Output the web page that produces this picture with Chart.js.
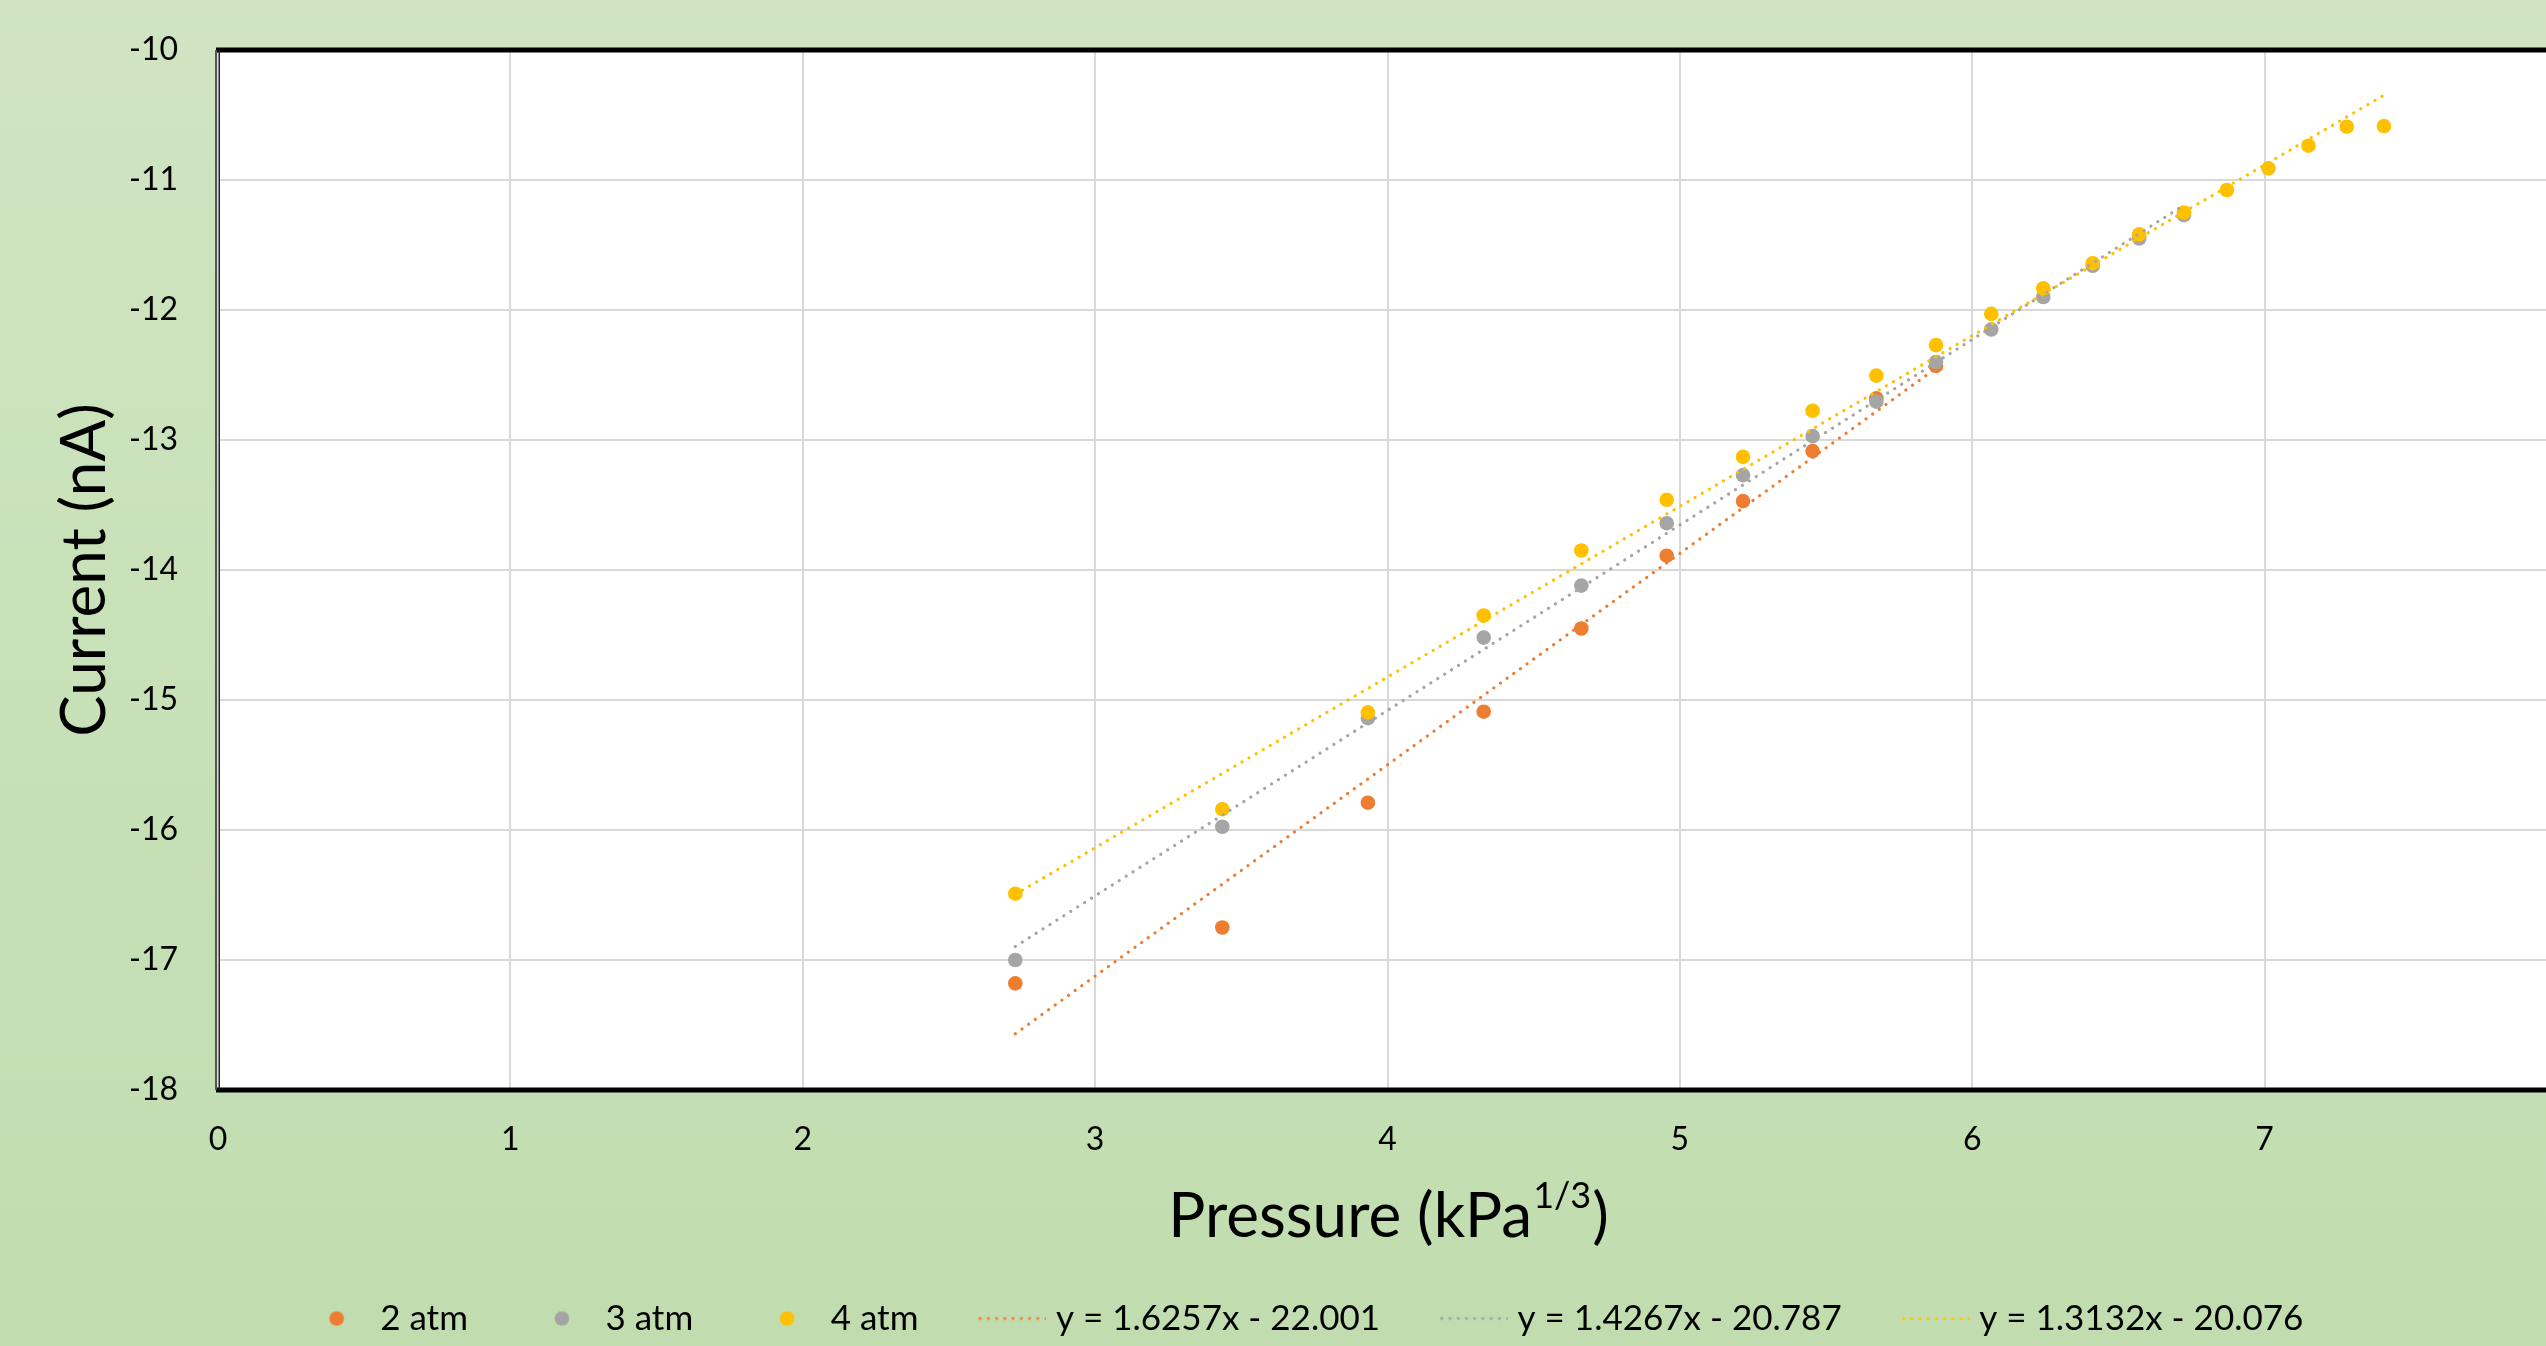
<!DOCTYPE html>
<html>
<head>
<meta charset="utf-8">
<title>Current vs Pressure</title>
<script src="https://cdn.jsdelivr.net/npm/chart.js@4.4.1/dist/chart.umd.min.js"></script>
<style>
  html, body { margin: 0; padding: 0; width: 2546px; height: 1346px; overflow: hidden; }
  body { background: linear-gradient(180deg, #d0e4c2 0%, #c8e1b8 50%, #c1ddaf 100%); }
  #caixa { position: absolute; left: 0; top: 0; width: 2614px; height: 1346px; }
</style>
</head>
<body>
<div id="caixa"><canvas id="chartCorrente" width="2614" height="1346"></canvas></div>
<script>
// pressao^(1/3) em kPa^(1/3), mesma para as tres series
const pressaoRaiz = [2.727, 3.435, 3.933, 4.329, 4.663, 4.955, 5.216, 5.454, 5.672, 5.876,
                     6.065, 6.243, 6.412, 6.571, 6.724, 6.871, 7.013, 7.150, 7.281, 7.408];

// corrente (nA)
const corrente2atm = [-17.18, -16.75, -15.79, -15.09, -14.45, -13.89, -13.47, -13.085, -12.68, -12.43];
const corrente3atm = [-17.00, -15.975, -15.14, -14.52, -14.12, -13.64, -13.27, -12.97, -12.705, -12.40,
                      -12.15, -11.90, -11.66, -11.45, -11.27];
const corrente4atm = [-16.49, -15.84, -15.095, -14.35, -13.85, -13.46, -13.13, -12.775, -12.505, -12.27,
                      -12.03, -11.833, -11.64, -11.418, -11.25, -11.077, -10.91, -10.736, -10.59, -10.585];

const nomesSeries = ['2 atm', '3 atm', '4 atm'];
const coresSeries = ['#ED7D31', '#A5A5A5', '#FFC000'];

// linhas de tendencia (y = m x + b) mostradas na legenda
const inclinacoes = [1.6257, 1.4267, 1.3132];
const interceptos = [-22.001, -20.787, -20.076];

const ticksX = { min: 0, max: 8, passo: 1 };
const ticksY = { min: -18, max: -10, passo: 1 };

function pontos(xs, ys) {
  return ys.map((y, i) => ({ x: xs[i], y: y }));
}

function linhaTendencia(m, b, xIni, xFim) {
  return [{ x: xIni, y: m * xIni + b }, { x: xFim, y: m * xFim + b }];
}

function textoEquacao(m, b) {
  return 'y = ' + m + 'x ' + (b < 0 ? '- ' : '+ ') + Math.abs(b);
}

// icones da legenda (marcador redondo e linha pontilhada)
function iconeMarcador(cor) {
  const c = document.createElement('canvas');
  c.width = 68; c.height = 18;
  const g = c.getContext('2d');
  g.fillStyle = cor;
  g.beginPath();
  g.arc(34, 9, 7.3, 0, Math.PI * 2);
  g.fill();
  return c;
}

function iconePontilhado(cor) {
  const c = document.createElement('canvas');
  c.width = 68; c.height = 18;
  const g = c.getContext('2d');
  g.fillStyle = cor;
  for (let x = 1.8; x < 68; x += 8.2) {
    g.beginPath();
    g.arc(x, 9, 1.6, 0, Math.PI * 2);
    g.fill();
  }
  return c;
}

const seriesCorrente = [corrente2atm, corrente3atm, corrente4atm];
const datasets = [];

seriesCorrente.forEach((ys, i) => {
  datasets.push({
    label: nomesSeries[i],
    data: pontos(pressaoRaiz, ys),
    backgroundColor: coresSeries[i],
    borderColor: coresSeries[i],
    pointRadius: 7.3,
    pointBorderWidth: 0,
    showLine: false,
    order: 6 - i,
    icone: iconeMarcador(coresSeries[i])
  });
});

seriesCorrente.forEach((ys, i) => {
  datasets.push({
    label: textoEquacao(inclinacoes[i], interceptos[i]),
    data: linhaTendencia(inclinacoes[i], interceptos[i], pressaoRaiz[0], pressaoRaiz[ys.length - 1]),
    borderColor: coresSeries[i],
    backgroundColor: coresSeries[i],
    borderWidth: 3.2,
    borderDash: [0.1, 8.1],
    borderCapStyle: 'round',
    pointRadius: 0,
    showLine: true,
    order: 3 - i,
    icone: iconePontilhado(coresSeries[i])
  });
});

// fundo branco da area, moldura e titulo do eixo x com expoente
const moldura = {
  id: 'moldura',
  beforeDraw(chart) {
    const { ctx, chartArea: a } = chart;
    ctx.save();
    ctx.fillStyle = '#ffffff';
    ctx.fillRect(a.left, a.top, a.right - a.left, a.bottom - a.top);
    ctx.restore();
  },
  afterDatasetsDraw(chart) {
    const { ctx, chartArea: a } = chart;
    ctx.save();
    ctx.strokeStyle = '#000000';
    ctx.lineWidth = 5;
    ctx.beginPath();
    ctx.moveTo(a.left - 2, a.top); ctx.lineTo(a.right, a.top);
    ctx.moveTo(a.left - 2, a.bottom); ctx.lineTo(a.right, a.bottom);
    ctx.stroke();
    ctx.strokeStyle = '#555555';
    ctx.lineWidth = 2;
    ctx.beginPath();
    ctx.moveTo(a.left - 2, a.top); ctx.lineTo(a.left - 2, a.bottom);
    ctx.stroke();
    ctx.strokeStyle = '#222222';
    ctx.lineWidth = 1.4;
    ctx.beginPath();
    ctx.moveTo(a.left + 1.3, a.top); ctx.lineTo(a.left + 1.3, a.bottom);
    ctx.stroke();
    ctx.restore();
  },
  afterDraw(chart) {
    const { ctx, chartArea: a } = chart;
    const principal = 'Pressure (kPa';
    const expoente = '1/3';
    const fim = ')';
    ctx.save();
    ctx.fillStyle = '#000000';
    ctx.textBaseline = 'alphabetic';
    ctx.textAlign = 'left';
    ctx.font = '62px Lato';
    const w1 = ctx.measureText(principal).width;
    const w3 = ctx.measureText(fim).width;
    ctx.font = '36px Lato';
    const w2 = ctx.measureText(expoente).width;
    const base = a.bottom + 147;
    let x = (a.left + a.right) / 2 - (w1 + w2 + w3) / 2;
    ctx.font = '62px Lato';
    ctx.fillText(principal, x, base);
    x += w1 + 1;
    ctx.font = '36px Lato';
    ctx.fillText(expoente, x, base - 29);
    x += w2 + 1;
    ctx.font = '62px Lato';
    ctx.fillText(fim, x, base);
    ctx.restore();
  }
};

const geraLegenda = Chart.defaults.plugins.legend.labels.generateLabels;

const chartCorrente = new Chart(document.getElementById('chartCorrente'), {
  type: 'scatter',
  data: { datasets: datasets },
  plugins: [moldura],
  options: {
    responsive: false,
    animation: false,
    events: [],
    layout: { padding: { top: 50, left: 57, right: 57, bottom: 0 } },
    scales: {
      x: {
        type: 'linear',
        min: ticksX.min,
        max: ticksX.max,
        ticks: { stepSize: ticksX.passo, padding: 30, color: '#000000', font: { family: 'Lato', size: 32 } },
        grid: { color: '#d9d9d9', lineWidth: 2, drawTicks: false },
        border: { display: false },
        afterFit(scale) { scale.height = 143; }
      },
      y: {
        type: 'linear',
        min: ticksY.min,
        max: ticksY.max,
        ticks: { stepSize: ticksY.passo, padding: 40, color: '#000000', font: { family: 'Lato', size: 32 } },
        grid: { color: '#d9d9d9', lineWidth: 2, drawTicks: false },
        border: { display: false },
        title: {
          display: true,
          text: 'Current (nA)',
          color: '#000000',
          padding: 0,
          font: { family: 'Lato', size: 62, lineHeight: 0.9 }
        },
        afterFit(scale) {
          scale.width = 161;
          scale.paddingTop = 0;
          scale.paddingBottom = 0;
        }
      }
    },
    plugins: {
      tooltip: { enabled: false },
      legend: {
        position: 'bottom',
        labels: {
          usePointStyle: true,
          pointStyleWidth: 52,
          padding: 68,
          color: '#000000',
          font: { family: 'Lato', size: 35 },
          sort: (a, b) => a.datasetIndex - b.datasetIndex,
          generateLabels(chart) {
            const itens = geraLegenda(chart);
            itens.forEach((item) => {
              item.pointStyle = chart.data.datasets[item.datasetIndex].icone;
            });
            return itens;
          }
        }
      }
    }
  }
});
</script>
</body>
</html>
